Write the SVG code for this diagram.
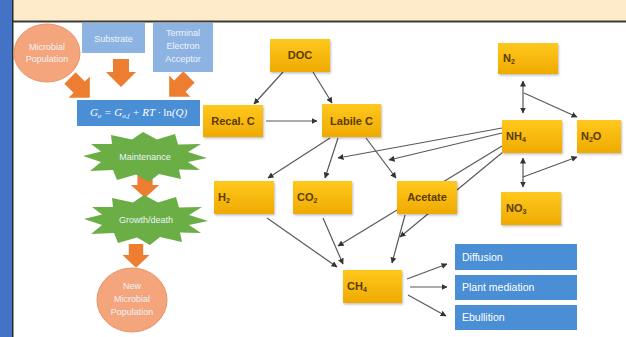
<svg xmlns="http://www.w3.org/2000/svg" width="626" height="337" viewBox="0 0 626 337">
<style>
.y{fill:url(#yg);filter:url(#sh)}
.yt{font-family:"Liberation Sans",Arial,sans-serif;font-weight:bold;font-size:11px;fill:#5a3c00}
.bl{fill:#4a8ed6}
.wt{font-family:"Liberation Sans",Arial,sans-serif;font-size:10.5px;fill:#ffffff}
.lt{font-family:"Liberation Sans",Arial,sans-serif;font-size:9px;fill:#eef3fa}
.or{fill:#ed7d31}
.c{stroke:#595959;stroke-width:1.2;fill:none;marker-end:url(#ah)}
.d{marker-start:url(#ah2)}
.sub{font-size:7px}
</style>
<defs>
<linearGradient id="yg" x1="0" y1="0" x2="0" y2="1">
<stop offset="0" stop-color="#ffc81e"/>
<stop offset="1" stop-color="#efaa00"/>
</linearGradient>
<filter id="sh" x="-10%" y="-10%" width="130%" height="140%">
<feDropShadow dx="1" dy="1.5" stdDeviation="1" flood-color="#000" flood-opacity="0.25"/>
</filter>
<marker id="ah" markerWidth="6" markerHeight="6" refX="5.5" refY="3" orient="auto" markerUnits="userSpaceOnUse">
<path d="M0,0 L6,3 L0,6 z" fill="#333"/>
</marker>
<marker id="ah2" markerWidth="6" markerHeight="6" refX="5.5" refY="3" orient="auto-start-reverse" markerUnits="userSpaceOnUse">
<path d="M0,0 L6,3 L0,6 z" fill="#333"/>
</marker>
<polygon id="burst" points="62,1 43,5 55,13 34,12.5 36,22 14,17 4,25 -9,17.5 -28,23 -32,13 -55,14 -44,5 -62,-1 -44,-5.5 -54,-13 -33,-13 -34,-22 -13,-17.5 -2,-25 12,-17.5 30,-23 33,-12.5 56,-13 43,-5"/>
<path id="barrow" d="M-8,0 H8 V13 H15 L0,28 L-15,13 H-8 Z"/>
</defs>

<!-- frame -->
<rect x="0" y="0" width="626" height="337" fill="#ffffff"/>
<rect x="0" y="0" width="626" height="21" fill="#fdebc9"/>
<rect x="0" y="20.5" width="626" height="2" fill="#3a3a3a"/>
<rect x="0" y="0" width="12" height="337" fill="#4472c4"/>
<rect x="12" y="0" width="1.5" height="337" fill="#2a2a2a"/>

<!-- orange arrows -->
<g id="orange-arrows">
<use href="#barrow" class="or" transform="translate(70,78) rotate(-45)"/>
<use href="#barrow" class="or" transform="translate(121,59)"/>
<use href="#barrow" class="or" transform="translate(189,77) rotate(45)"/>
<use href="#barrow" class="or" transform="translate(145,174) scale(0.95,0.85)"/>
<use href="#barrow" class="or" transform="translate(136,244) scale(0.9,0.85)"/>
</g>

<!-- connectors -->
<g id="connectors">
<path class="c" d="M283,72 L254,104"/>
<path class="c" d="M313,72 L332,103"/>
<path class="c" d="M266,121 L317,121"/>
<path class="c" d="M330,138 L268,178"/>
<path class="c" d="M338,138 L325,178"/>
<path class="c" d="M366,138 L396,178"/>
<path class="c" d="M502,128 L338,158"/>
<path class="c" d="M502,133 L389,160"/>
<path class="c" d="M502,146 L338,246"/>
<path class="c" d="M503,152 L400,237"/>
<path class="c" d="M267,218 L337,267"/>
<path class="c" d="M323,218 L343,264"/>
<path class="c" d="M405,215 L392,263"/>
<path class="c" d="M407,279 L447,264"/>
<path class="c" d="M410,287 L447,287"/>
<path class="c" d="M408,295 L446,316"/>
<path class="c d" d="M523,81 L523,113"/>
<path class="c" d="M524,93 L577,117"/>
<path class="c d" d="M523,158 L523,187"/>
<path class="c" d="M523,177 L577,157"/>
</g>

<!-- left column -->
<g id="microbial-population">
<ellipse cx="47" cy="53" rx="33" ry="29" fill="#f4a57c" stroke="#e8956a" stroke-width="1"/>
<text class="lt" x="47" y="50" text-anchor="middle">Microbial</text>
<text class="lt" x="47" y="62" text-anchor="middle">Population</text>
</g>
<g id="substrate">
<rect x="82" y="23" width="63" height="30" fill="#8db3e2"/>
<text class="lt" x="113.5" y="42" text-anchor="middle">Substrate</text>
</g>
<g id="terminal-electron-acceptor">
<rect x="153" y="23" width="60" height="49" fill="#8db3e2"/>
<text class="lt" x="183" y="36" text-anchor="middle">Terminal</text>
<text class="lt" x="183" y="49" text-anchor="middle">Electron</text>
<text class="lt" x="183" y="62" text-anchor="middle">Acceptor</text>
</g>
<g id="equation">
<rect x="77" y="100" width="123" height="26" fill="#4a8ed6"/>
<text x="138.5" y="116" text-anchor="middle" font-family="'Liberation Serif','Times New Roman',serif" font-style="italic" font-size="11px" fill="#ffffff">G<tspan class="sub" dy="2">o</tspan><tspan dy="-2"> = G</tspan><tspan class="sub" dy="2">o,f</tspan><tspan dy="-2"> + RT · </tspan><tspan font-style="normal">ln</tspan>(Q)</text>
</g>
<g id="maintenance">
<use href="#burst" fill="#6aae45" transform="translate(145,157)"/>
<text class="lt" x="145" y="160" text-anchor="middle">Maintenance</text>
</g>
<g id="growth-death">
<use href="#burst" fill="#6aae45" transform="translate(146,220)"/>
<text class="lt" x="146" y="223" text-anchor="middle">Growth/death</text>
</g>
<g id="new-microbial-population">
<ellipse cx="132" cy="300" rx="35" ry="32" fill="#f4a57c" stroke="#e8956a" stroke-width="1"/>
<text class="lt" x="132" y="289" text-anchor="middle">New</text>
<text class="lt" x="132" y="302" text-anchor="middle">Microbial</text>
<text class="lt" x="132" y="315" text-anchor="middle">Population</text>
</g>

<!-- carbon nodes -->
<g id="doc"><rect class="y" x="270" y="39" width="60" height="33"/><text class="yt" x="300" y="59" text-anchor="middle">DOC</text></g>
<g id="recal-c"><rect class="y" x="203" y="105" width="60" height="32"/><text class="yt" x="233" y="125" text-anchor="middle">Recal. C</text></g>
<g id="labile-c"><rect class="y" x="322" y="104" width="59" height="33"/><text class="yt" x="351.5" y="125" text-anchor="middle">Labile C</text></g>
<g id="h2"><rect class="y" x="214" y="181" width="60" height="33"/><text class="yt" x="218" y="201">H<tspan class="sub" dy="2">2</tspan></text></g>
<g id="co2"><rect class="y" x="293" y="181" width="59" height="33"/><text class="yt" x="297" y="201">CO<tspan class="sub" dy="2">2</tspan></text></g>
<g id="acetate"><rect class="y" x="397" y="181" width="60" height="33"/><text class="yt" x="427" y="201" text-anchor="middle">Acetate</text></g>
<g id="ch4"><rect class="y" x="343" y="270" width="59" height="33"/><text class="yt" x="347" y="290">CH<tspan class="sub" dy="2">4</tspan></text></g>

<!-- nitrogen nodes -->
<g id="n2"><rect class="y" x="498" y="43" width="60" height="31"/><text class="yt" x="503" y="62">N<tspan class="sub" dy="2">2</tspan></text></g>
<g id="nh4"><rect class="y" x="502" y="120" width="60" height="33"/><text class="yt" x="506" y="140">NH<tspan class="sub" dy="2">4</tspan></text></g>
<g id="n2o"><rect class="y" x="577" y="120" width="44" height="33"/><text class="yt" x="581" y="140">N<tspan class="sub" dy="2">2</tspan><tspan dy="-2">O</tspan></text></g>
<g id="no3"><rect class="y" x="501" y="192" width="60" height="33"/><text class="yt" x="506" y="212">NO<tspan class="sub" dy="2">3</tspan></text></g>

<!-- transport nodes -->
<g id="diffusion"><rect class="bl" x="455" y="244" width="122" height="26"/><text class="wt" x="462" y="261">Diffusion</text></g>
<g id="plant-mediation"><rect class="bl" x="455" y="275" width="122" height="25"/><text class="wt" x="462" y="291">Plant mediation</text></g>
<g id="ebullition"><rect class="bl" x="455" y="305" width="122" height="25"/><text class="wt" x="462" y="321">Ebullition</text></g>
</svg>
